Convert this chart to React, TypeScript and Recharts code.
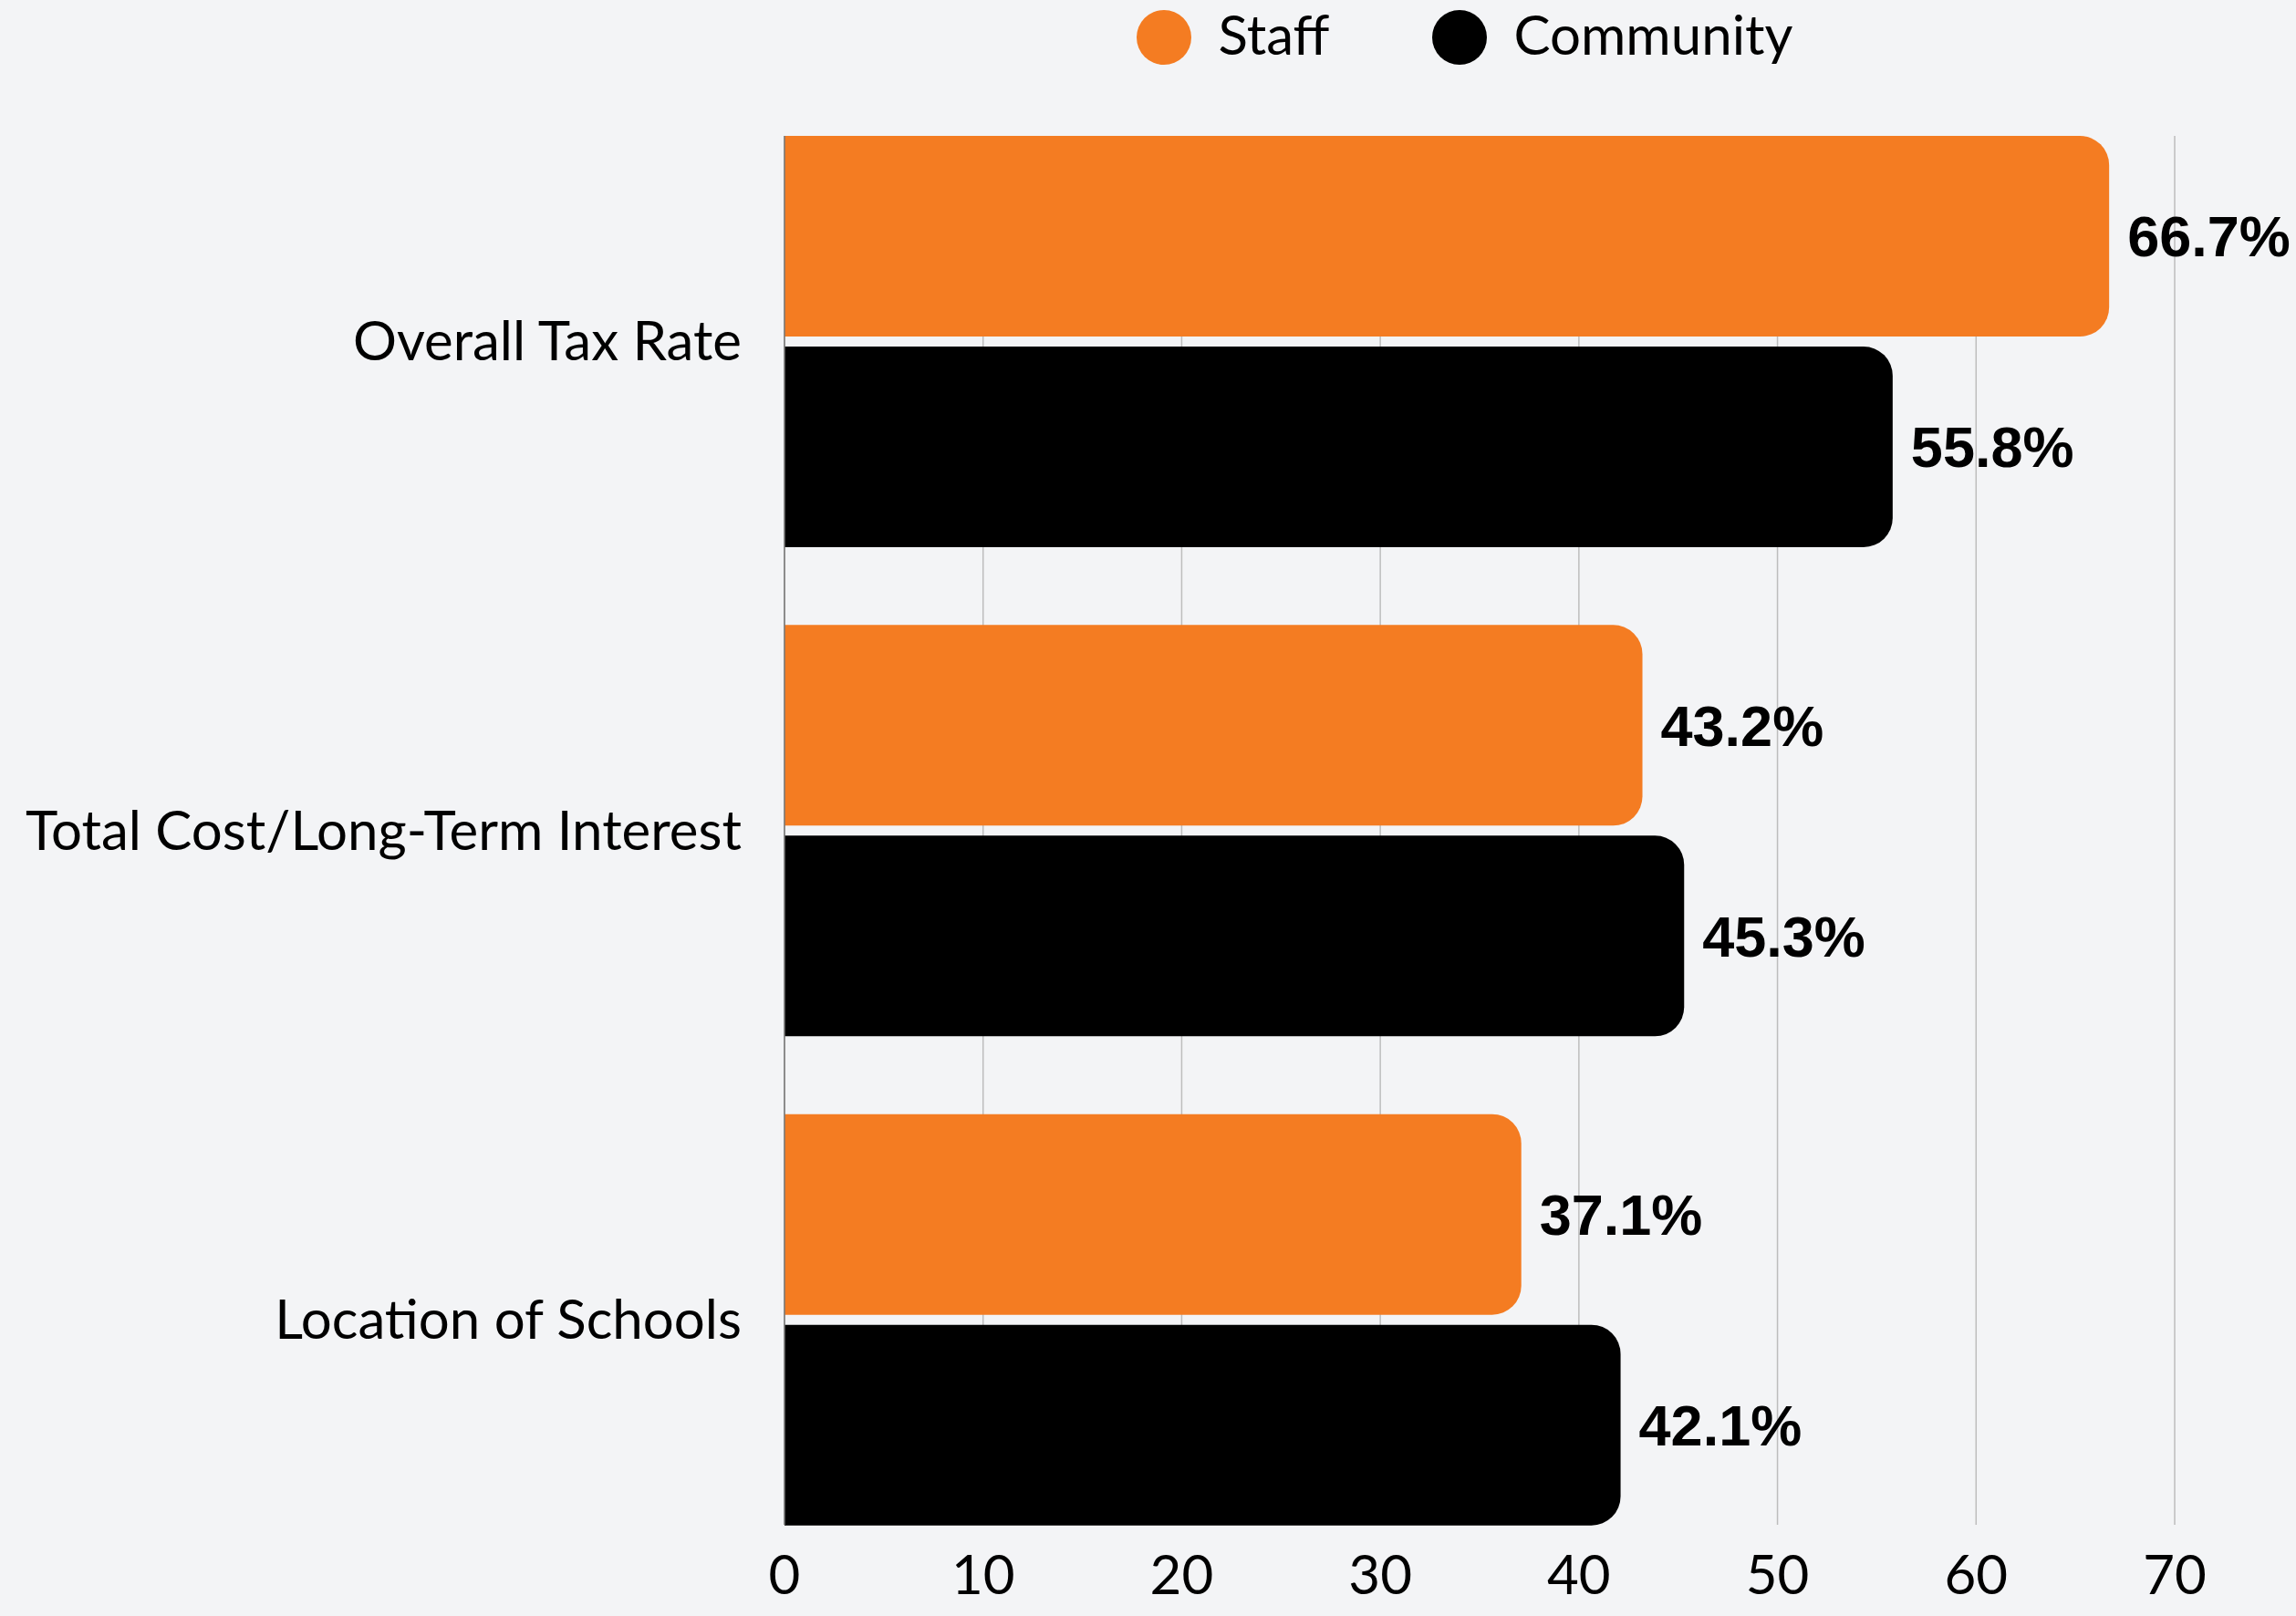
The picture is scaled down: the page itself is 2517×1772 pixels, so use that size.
import React from 'react';
import { BarChart, Bar, XAxis, YAxis, CartesianGrid, Legend, LabelList } from 'recharts';

const categories = ['Overall Tax Rate', 'Total Cost/Long-Term Interest', 'Location of Schools'];
const staffValues = [66.7, 43.2, 37.1];
const communityValues = [55.8, 45.3, 42.1];
const xTicks = [0, 10, 20, 30, 40, 50, 60, 70];

const seriesInfo = [
  { key: 'staff', name: 'Staff', color: '#F47C22' },
  { key: 'community', name: 'Community', color: '#000000' },
];

const data = categories.map((name, i) => ({
  name,
  staff: staffValues[i],
  community: communityValues[i],
}));

const LATO = 'Lato, "Noto Sans", sans-serif';
const ARIAL = '"Liberation Sans", Arial, sans-serif';

const CustomLegend: React.FC<any> = () => (
  <div
    style={{
      height: 90,
      display: 'flex',
      justifyContent: 'center',
      alignItems: 'flex-start',
      paddingRight: 32,
      fontFamily: LATO,
      fontSize: 60,
      color: '#000',
    }}
  >
    {seriesInfo.map((s, i) => (
      <div key={s.key} style={{ display: 'flex', alignItems: 'center', marginLeft: i === 0 ? 0 : 112, height: 82 }}>
        <svg width={60} height={60} style={{ marginRight: 30 }}>
          <circle cx={30} cy={30} r={30} fill={s.color} />
        </svg>
        <span style={{ lineHeight: '60px', marginTop: -8 }}>{s.name}</span>
      </div>
    ))}
  </div>
);

const App: React.FC = () => {
  return (
    <div style={{ position: 'absolute', left: 0, top: 0, width: 2517, height: 1772, background: '#F3F4F6' }}>
      <BarChart
        width={2517}
        height={1772}
        data={data}
        layout="vertical"
        margin={{ top: 59, right: 133, left: 0, bottom: 0 }}
        barSize={220}
        barGap={11}
      >
        <CartesianGrid horizontal={false} stroke="#BDBDBD" strokeWidth={1.5} />
        <XAxis
          type="number"
          domain={[0, 70]}
          ticks={xTicks}
          height={100}
          axisLine={false}
          tickLine={false}
          tickSize={0}
          tickMargin={33}
          tick={{ fill: '#000', fontSize: 60, fontFamily: LATO }}
        />
        <YAxis
          type="category"
          dataKey="name"
          width={860}
          padding={{ top: -43, bottom: -43 }}
          axisLine={{ stroke: '#777777', strokeWidth: 1.5 }}
          tickLine={false}
          tickSize={0}
          tickMargin={47}
          tick={{ fill: '#000', fontSize: 60, fontFamily: LATO }}
        />
        <Legend
          verticalAlign="top"
          content={<CustomLegend />}
          wrapperStyle={{ top: 0, left: 860, width: 1523 }}
        />
        {seriesInfo.map((s) => (
          <Bar
            key={s.key}
            dataKey={s.key}
            name={s.name}
            fill={s.color}
            radius={[0, 32, 32, 0]}
            isAnimationActive={false}
          >
            <LabelList
              dataKey={s.key}
              position="right"
              offset={20}
              formatter={(v: any) => `${v}%`}
              style={{ fill: '#000', fontSize: 63, fontWeight: 700, fontFamily: ARIAL }}
            />
          </Bar>
        ))}
      </BarChart>
    </div>
  );
};

export default App;
